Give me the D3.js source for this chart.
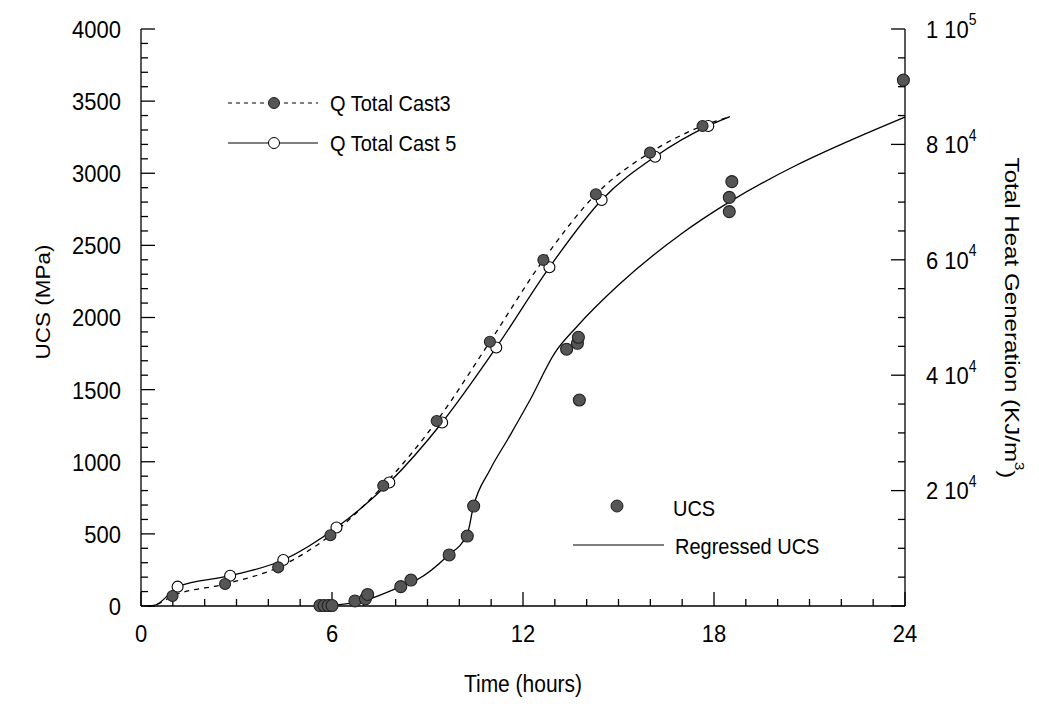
<!DOCTYPE html>
<html><head><meta charset="utf-8">
<script src="https://cdn.jsdelivr.net/npm/d3@7"></script>
<style>
body{margin:0;background:#fff;}
svg{display:block;font-family:"Liberation Sans",Arial,sans-serif;}
</style></head><body>
<svg id="chart" width="1039" height="709"></svg>
<script>
// ---- data ----
const xTicks = [0, 6, 12, 18, 24];
const ucsTicks = [0, 500, 1000, 1500, 2000, 2500, 3000, 3500, 4000];
const heatTickMantissa = [2, 4, 6, 8, 1];
const heatTickExp = [4, 4, 4, 4, 5];
const heatTickValues = [20000, 40000, 60000, 80000, 100000];

// Q Total Cast3 (filled markers, dashed line)
const cast3Time = [0.99, 2.64, 4.31, 5.95, 7.61, 9.29, 10.96, 12.64, 14.29, 15.99, 17.64];
const cast3Q    = [1730, 3810, 6700, 12250, 20850, 32050, 45800, 59970, 71350, 78570, 83200];
const cast3LineTime = [0.2, 0.45, 0.99, 2.64, 4.31, 5.95, 7.61, 9.29, 10.96, 12.64, 14.29, 15.99, 17.64, 18.5];
const cast3LineQ    = [0, 170, 1730, 3810, 6700, 12250, 20850, 32050, 45800, 59970, 71350, 78570, 83200, 84800];

// Q Total Cast 5 (open markers, solid line)
const cast5Time = [1.15, 2.8, 4.47, 6.14, 7.8, 9.46, 11.16, 12.83, 14.47, 16.15, 17.82];
const cast5Q    = [3350, 5250, 7970, 13600, 21400, 31800, 44800, 58700, 70370, 77870, 83200];
const cast5LineTime = [0.2, 0.45, 1.02, 1.15, 2.8, 4.47, 6.14, 7.8, 9.46, 11.16, 12.83, 14.47, 16.15, 17.82, 18.5];
const cast5LineQ    = [0, 170, 2770, 3350, 5250, 7970, 13600, 21400, 31800, 44800, 58700, 70370, 77870, 83200, 84800];

// UCS measurements
const ucsTime = [5.62, 5.75, 5.88, 6.0, 6.72, 7.05, 7.12, 8.16, 8.48, 9.68, 10.25, 10.45, 13.37, 13.71, 13.74, 13.77, 18.48, 18.48, 18.56, 23.95];
const ucsValue = [3, 3, 3, 3, 35, 50, 80, 134, 180, 354, 485, 693, 1780, 1821, 1863, 1428, 2734, 2833, 2942, 3646];

// Regressed UCS
const regTime  = [5.5, 6.0, 7.0, 8.0, 8.66, 9.6, 10.25, 10.44, 10.96, 11.54, 12.22, 13.0, 13.69, 15.0, 17.0, 18.5, 20.6, 22.3, 24.0];
const regValue = [0, 5, 37, 120, 180, 342, 500, 688, 943, 1163, 1428, 1755, 1936, 2225, 2584, 2803, 3057, 3230, 3390];

// ---- layout ----
const svg = d3.select("#chart");
const L = 141, T = 29, R = 905, B = 606;
const x = d3.scaleLinear().domain([0, 24]).range([L, R]);
const yU = d3.scaleLinear().domain([0, 4000]).range([B, T]);
const yQ = d3.scaleLinear().domain([0, 100000]).range([B, T]);
const TICK_FS = 22, TITLE_FS = 21, LEG_FS = 20;
const VS = 1.12; // vertical stretch of the scanned lettering

// axes
const axG = svg.append("g").attr("stroke", "#000").attr("stroke-width", 1.3);
axG.append("line").attr("x1", L).attr("x2", L).attr("y1", T).attr("y2", B);
axG.append("line").attr("x1", R).attr("x2", R).attr("y1", T).attr("y2", B);
axG.append("line").attr("x1", L).attr("x2", R).attr("y1", B).attr("y2", B);

const MAJ = 14, MIN = 7;
d3.range(0, 4001, 100).forEach(v => {
  const maj = v % 500 === 0;
  axG.append("line").attr("x1", L).attr("x2", L + (maj ? MAJ : MIN)).attr("y1", yU(v)).attr("y2", yU(v));
});
d3.range(0, 25, 1).forEach(t => {
  const maj = t % 6 === 0;
  axG.append("line").attr("x1", x(t)).attr("x2", x(t)).attr("y1", B).attr("y2", B - (maj ? MAJ : MIN));
});
d3.range(0, 100001, 5000).forEach(v => {
  const maj = v % 20000 === 0;
  axG.append("line").attr("x1", R).attr("x2", R - (maj ? MAJ : MIN)).attr("y1", yQ(v)).attr("y2", yQ(v));
});

// tick labels
svg.append("g").selectAll("text").data(ucsTicks).join("text")
  .attr("transform", d => `translate(${L - 20},${yU(d)}) scale(1,${VS})`).attr("dy", "0.36em")
  .attr("text-anchor", "end").attr("font-size", TICK_FS).text(d => d);
svg.append("g").selectAll("text").data(xTicks).join("text")
  .attr("transform", d => `translate(${x(d)},${B + 36}) scale(1,${VS})`)
  .attr("text-anchor", "middle").attr("font-size", TICK_FS).text(d => d);
const rl = svg.append("g").selectAll("text").data(heatTickValues).join("text")
  .attr("transform", d => `translate(${R + 21},${yQ(d)}) scale(1,${VS})`).attr("dy", "0.36em")
  .attr("font-size", TICK_FS);
rl.append("tspan").text((d, i) => heatTickMantissa[i] + " 10");
rl.append("tspan").attr("font-size", 14).attr("dy", "-0.8em").text((d, i) => heatTickExp[i]);

// axis titles
svg.append("text").attr("transform", `translate(42,302) rotate(-90) scale(1.07,1)`)
  .attr("text-anchor", "middle").attr("dy", "0.36em").attr("font-size", TITLE_FS).text("UCS (MPa)");
svg.append("text").attr("transform", `translate(${(L + R) / 2},692) scale(1,${VS})`)
  .attr("text-anchor", "middle").attr("font-size", TITLE_FS).text("Time (hours)");
const rt = svg.append("text").attr("transform", `translate(1013,318) rotate(90) scale(1.15,1)`)
  .attr("text-anchor", "middle").attr("dy", "0.36em").attr("font-size", TITLE_FS);
rt.append("tspan").text("Total Heat Generation (KJ/m");
rt.append("tspan").attr("font-size", 13).attr("dy", "-0.7em").text("3");
rt.append("tspan").attr("dy", "0.7em").text(")");

// lines
const lineQ = d3.line().x(d => x(d[0])).y(d => yQ(d[1])).curve(d3.curveMonotoneX);
const lineU = d3.line().x(d => x(d[0])).y(d => yU(d[1])).curve(d3.curveMonotoneX);
svg.append("path").attr("d", lineQ(d3.zip(cast5LineTime, cast5LineQ)))
  .attr("fill", "none").attr("stroke", "#000").attr("stroke-width", 1.3);
svg.append("path").attr("d", lineQ(d3.zip(cast3LineTime, cast3LineQ)))
  .attr("fill", "none").attr("stroke", "#000").attr("stroke-width", 1.3).attr("stroke-dasharray", "5,5");
svg.append("path").attr("d", lineU(d3.zip(regTime, regValue)))
  .attr("fill", "none").attr("stroke", "#000").attr("stroke-width", 1.3);

// markers
const R_M = 5.5;
svg.append("g").selectAll("circle").data(d3.zip(cast5Time, cast5Q)).join("circle")
  .attr("cx", d => x(d[0])).attr("cy", d => yQ(d[1])).attr("r", R_M)
  .attr("fill", "#fff").attr("stroke", "#000").attr("stroke-width", 1.1);
svg.append("g").selectAll("circle").data(d3.zip(cast3Time, cast3Q)).join("circle")
  .attr("cx", d => x(d[0])).attr("cy", d => yQ(d[1])).attr("r", R_M)
  .attr("fill", "#555").attr("stroke", "#222").attr("stroke-width", 1.1);
svg.append("g").selectAll("circle").data(d3.zip(ucsTime, ucsValue)).join("circle")
  .attr("cx", d => x(d[0])).attr("cy", d => yU(d[1])).attr("r", R_M + 0.5)
  .attr("fill", "#555").attr("stroke", "#222").attr("stroke-width", 1.1);

// legends
const lg = svg.append("g");
function legText(xp, yp, s) {
  lg.append("text").attr("transform", `translate(${xp},${yp}) scale(1,${VS})`)
    .attr("dy", "0.36em").attr("font-size", LEG_FS).text(s);
}
lg.append("line").attr("x1", 228).attr("x2", 318).attr("y1", 103).attr("y2", 103)
  .attr("stroke", "#000").attr("stroke-width", 1.2).attr("stroke-dasharray", "4,4");
lg.append("circle").attr("cx", 274).attr("cy", 103).attr("r", R_M).attr("fill", "#555").attr("stroke", "#222");
legText(330, 103, "Q Total Cast3");
lg.append("line").attr("x1", 228).attr("x2", 318).attr("y1", 143).attr("y2", 143)
  .attr("stroke", "#000").attr("stroke-width", 1.2);
lg.append("circle").attr("cx", 274).attr("cy", 143).attr("r", R_M).attr("fill", "#fff").attr("stroke", "#000");
legText(330, 143, "Q Total Cast 5");

lg.append("circle").attr("cx", 617).attr("cy", 506).attr("r", R_M + 0.5).attr("fill", "#555").attr("stroke", "#222");
legText(673, 508, "UCS");
lg.append("line").attr("x1", 573).attr("x2", 664).attr("y1", 545).attr("y2", 545)
  .attr("stroke", "#000").attr("stroke-width", 1.2);
legText(675, 546, "Regressed UCS");
</script>
</body></html>
